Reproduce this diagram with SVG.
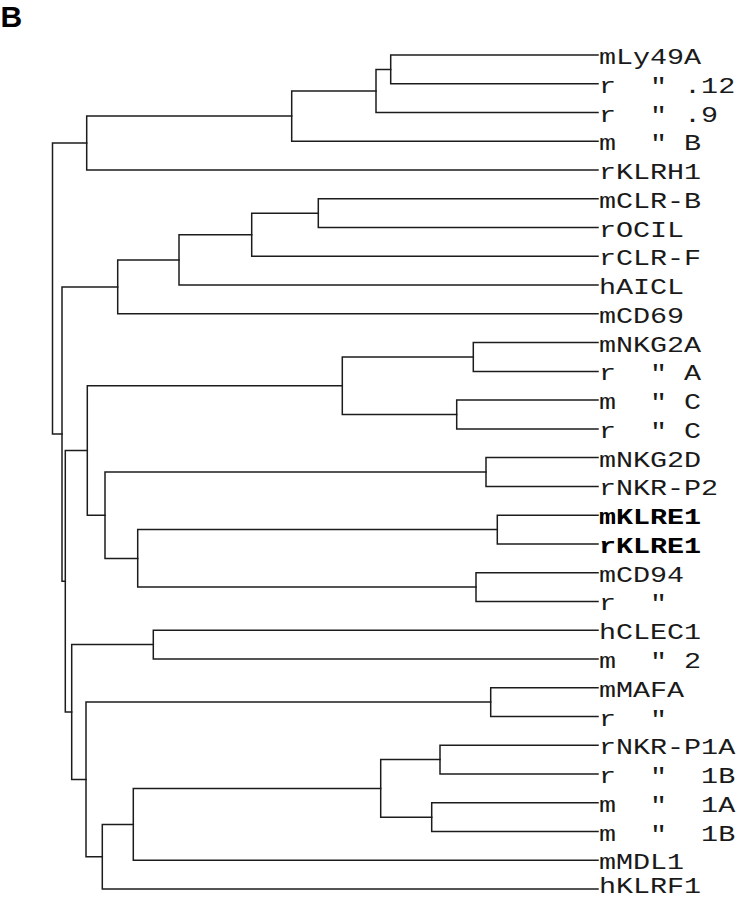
<svg xmlns="http://www.w3.org/2000/svg" width="737" height="900" viewBox="0 0 737 900" xml:space="preserve">
<style>
.lbl{font-family:"Liberation Mono","DejaVu Sans Mono",monospace;font-size:22px;fill:#1a1a1a;white-space:pre}
.b{font-weight:bold;fill:#000}
.br{fill:none;stroke:#1c1c1c;stroke-width:1.5;stroke-linecap:square;stroke-linejoin:miter}
.panel{font-family:"Liberation Sans",Arial,sans-serif;font-size:30px;font-weight:bold;fill:#000}
</style>
<rect width="737" height="900" fill="#fff"/>
<text class="panel" x="0.5" y="26.5">B</text>
<g id="connectors" class="br">
<path d="M598 55 H390.7 V83.8 H598"/>
<path d="M390.7 69.4 H376 V112.5 H598"/>
<path d="M376 91 H291.7 V141.3 H598"/>
<path d="M291.7 116.1 H86.7 V170 H598"/>
<path d="M598 198.8 H318.3 V227.6 H598"/>
<path d="M318.3 213.2 H251.7 V256.3 H598"/>
<path d="M251.7 234.8 H179 V285.1 H598"/>
<path d="M179 260 H117.7 V313.8 H598"/>
<path d="M598 342.6 H473.3 V371.4 H598"/>
<path d="M598 400.1 H456.7 V428.9 H598"/>
<path d="M473.3 357 H342.3 V414.5 H456.7"/>
<path d="M598 457.6 H486 V486.4 H598"/>
<path d="M598 515.2 H497.3 V543.9 H598"/>
<path d="M598 572.7 H476 V601.4 H598"/>
<path d="M497.3 529.6 H137.7 V587.1 H476"/>
<path d="M486 472 H105 V558.4 H137.7"/>
<path d="M342.3 385.8 H87.3 V515.2 H105"/>
<path d="M598 630.2 H153.3 V659 H598"/>
<path d="M598 687.7 H490.7 V716.5 H598"/>
<path d="M598 745.2 H440 V774 H598"/>
<path d="M598 802.8 H431.7 V831.5 H598"/>
<path d="M440 759.6 H380.7 V817.2 H431.7"/>
<path d="M380.7 788.4 H133.3 V860.3 H598"/>
<path d="M133.3 824.4 H102.3 V889 H598"/>
<path d="M490.7 702.1 H86 V856.7 H102.3"/>
<path d="M153.3 644.6 H71.7 V779.4 H86"/>
<path d="M87.3 450.5 H65.3 V712 H71.7"/>
<path d="M117.7 286.9 H62 V581.3 H65.3"/>
<path d="M86.7 143.1 H52.5 V434.1 H62"/>
</g>
<g id="leaf-mLy49A"><text class="lbl" transform="matrix(1.29 0 0 1 599 64)">mLy49A</text></g>
<g id="leaf-rLy49-12"><text class="lbl" transform="matrix(1.29 0 0 1 599 92.8)">r  " .12</text></g>
<g id="leaf-rLy49-9"><text class="lbl" transform="matrix(1.29 0 0 1 599 121.5)">r  " .9</text></g>
<g id="leaf-mLy49B"><text class="lbl" transform="matrix(1.29 0 0 1 599 150.3)">m  " B</text></g>
<g id="leaf-rKLRH1"><text class="lbl" transform="matrix(1.29 0 0 1 599 179)">rKLRH1</text></g>
<g id="leaf-mCLR-B"><text class="lbl" transform="matrix(1.29 0 0 1 599 207.8)">mCLR-B</text></g>
<g id="leaf-rOCIL"><text class="lbl" transform="matrix(1.29 0 0 1 599 236.6)">rOCIL</text></g>
<g id="leaf-rCLR-F"><text class="lbl" transform="matrix(1.29 0 0 1 599 265.3)">rCLR-F</text></g>
<g id="leaf-hAICL"><text class="lbl" transform="matrix(1.29 0 0 1 599 294.1)">hAICL</text></g>
<g id="leaf-mCD69"><text class="lbl" transform="matrix(1.29 0 0 1 599 322.8)">mCD69</text></g>
<g id="leaf-mNKG2A"><text class="lbl" transform="matrix(1.29 0 0 1 599 351.6)">mNKG2A</text></g>
<g id="leaf-rNKG2A"><text class="lbl" transform="matrix(1.29 0 0 1 599 380.4)">r  " A</text></g>
<g id="leaf-mNKG2C"><text class="lbl" transform="matrix(1.29 0 0 1 599 409.1)">m  " C</text></g>
<g id="leaf-rNKG2C"><text class="lbl" transform="matrix(1.29 0 0 1 599 437.9)">r  " C</text></g>
<g id="leaf-mNKG2D"><text class="lbl" transform="matrix(1.29 0 0 1 599 466.6)">mNKG2D</text></g>
<g id="leaf-rNKR-P2"><text class="lbl" transform="matrix(1.29 0 0 1 599 495.4)">rNKR-P2</text></g>
<g id="leaf-mKLRE1"><text class="lbl b" transform="matrix(1.29 0 0 1 599 524.2)">mKLRE1</text></g>
<g id="leaf-rKLRE1"><text class="lbl b" transform="matrix(1.29 0 0 1 599 552.9)">rKLRE1</text></g>
<g id="leaf-mCD94"><text class="lbl" transform="matrix(1.29 0 0 1 599 581.7)">mCD94</text></g>
<g id="leaf-rCD94"><text class="lbl" transform="matrix(1.29 0 0 1 599 610.4)">r  "</text></g>
<g id="leaf-hCLEC1"><text class="lbl" transform="matrix(1.29 0 0 1 599 639.2)">hCLEC1</text></g>
<g id="leaf-mCLEC2"><text class="lbl" transform="matrix(1.29 0 0 1 599 668)">m  " 2</text></g>
<g id="leaf-mMAFA"><text class="lbl" transform="matrix(1.29 0 0 1 599 696.7)">mMAFA</text></g>
<g id="leaf-rMAFA"><text class="lbl" transform="matrix(1.29 0 0 1 599 725.5)">r  "</text></g>
<g id="leaf-rNKR-P1A"><text class="lbl" transform="matrix(1.29 0 0 1 599 754.2)">rNKR-P1A</text></g>
<g id="leaf-rNKR-P1B"><text class="lbl" transform="matrix(1.29 0 0 1 599 783)">r  "  1B</text></g>
<g id="leaf-mNKR-P1A"><text class="lbl" transform="matrix(1.29 0 0 1 599 811.8)">m  "  1A</text></g>
<g id="leaf-mNKR-P1B"><text class="lbl" transform="matrix(1.29 0 0 1 599 840.5)">m  "  1B</text></g>
<g id="leaf-mMDL1"><text class="lbl" transform="matrix(1.29 0 0 1 599 869.3)">mMDL1</text></g>
<g id="leaf-hKLRF1"><text class="lbl" transform="matrix(1.29 0 0 1 599 893)">hKLRF1</text></g>
</svg>
